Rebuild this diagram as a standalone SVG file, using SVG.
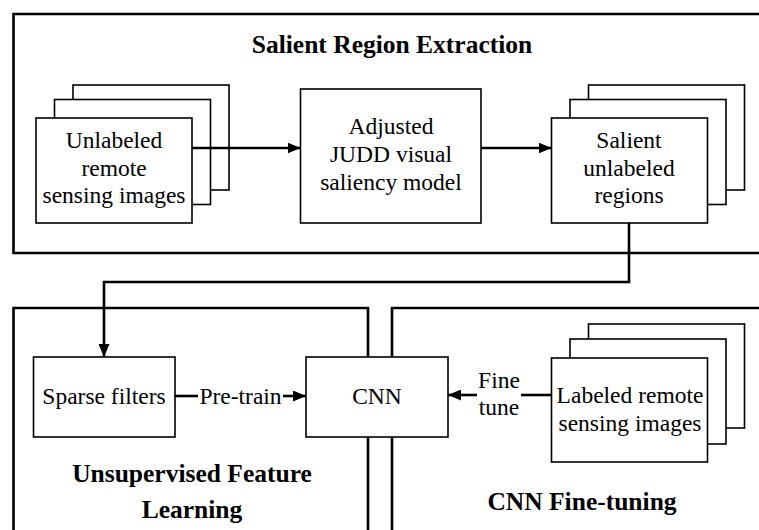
<svg xmlns="http://www.w3.org/2000/svg" width="759" height="530" viewBox="0 0 759 530">
<defs>
<style>
.cont{fill:none;stroke:#000;stroke-width:2.6}
.box{fill:#fff;stroke:#000;stroke-width:1.6}
.conn{fill:none;stroke:#000;stroke-width:2.6}
.t{font-family:'Liberation Serif','DejaVu Serif',serif;font-size:23.5px;fill:#000;text-anchor:middle}
.h{font-family:'Liberation Serif','DejaVu Serif',serif;font-size:25.5px;font-weight:bold;fill:#000;text-anchor:middle}
</style>
<marker id="ah" markerUnits="userSpaceOnUse" markerWidth="13" markerHeight="11" refX="13" refY="5.5" orient="auto">
<path d="M0,0 L13,5.5 L0,11 z" fill="#000"/>
</marker>
</defs>
<rect width="759" height="530" fill="#fff"/>
<g id="containers">
<g id="salient-region-extraction">
<path class="cont" d="M770,14 H13.5 V253 H770"/>
<text class="h" x="392" y="53">Salient Region Extraction</text>
</g>
<g id="unsupervised-feature-learning">
<path class="cont" d="M13.5,540 V308 H368 V540"/>
<text class="h" x="192" y="482">Unsupervised Feature</text>
<text class="h" x="192" y="518">Learning</text>
</g>
<g id="cnn-fine-tuning">
<path class="cont" d="M392,540 V308 H770"/>
<text class="h" x="582" y="510">CNN Fine-tuning</text>
</g>
</g>
<g id="unlabeled-images">
<rect class="box" x="73" y="85" width="156" height="105"/>
<rect class="box" x="54.5" y="99.5" width="156" height="105"/>
<rect class="box" x="36" y="118" width="156" height="105"/>
<text class="t" x="114" y="148">Unlabeled</text>
<text class="t" x="114" y="175.5">remote</text>
<text class="t" x="114" y="203">sensing images</text>
</g>
<g id="judd-model">
<rect class="box" x="300.5" y="89" width="180.5" height="134"/>
<text class="t" x="391" y="134">Adjusted</text>
<text class="t" x="391" y="162">JUDD visual</text>
<text class="t" x="391" y="190">saliency model</text>
</g>
<g id="salient-regions">
<rect class="box" x="588.5" y="85" width="156" height="105"/>
<rect class="box" x="570" y="99.5" width="156" height="105"/>
<rect class="box" x="551.5" y="118" width="156" height="105"/>
<text class="t" x="629" y="148">Salient</text>
<text class="t" x="629" y="176">unlabeled</text>
<text class="t" x="629" y="203">regions</text>
</g>
<g id="sparse-filters">
<rect class="box" x="33.5" y="357" width="141.5" height="80"/>
<text class="t" x="104" y="404">Sparse filters</text>
</g>
<g id="cnn">
<rect class="box" x="306" y="357" width="142" height="80"/>
<text class="t" x="377" y="404">CNN</text>
</g>
<g id="labeled-images">
<rect class="box" x="588.5" y="324" width="156" height="104"/>
<rect class="box" x="570" y="339" width="156" height="105"/>
<rect class="box" x="551.5" y="358" width="156" height="104"/>
<text class="t" x="630" y="403">Labeled remote</text>
<text class="t" x="630" y="431">sensing images</text>
</g>
<g id="connectors">
<line class="conn" x1="192" y1="148" x2="300.5" y2="148" marker-end="url(#ah)"/>
<line class="conn" x1="481" y1="148" x2="551.5" y2="148" marker-end="url(#ah)"/>
<polyline class="conn" points="629,223 629,282 104,282 104,357" marker-end="url(#ah)"/>
<line class="conn" x1="175" y1="396" x2="198" y2="396"/>
<line class="conn" x1="283" y1="396" x2="306" y2="396" marker-end="url(#ah)"/>
<text class="t" x="240.5" y="404">Pre-train</text>
<line class="conn" x1="551.5" y1="395" x2="521" y2="395"/>
<line class="conn" x1="477" y1="395" x2="448" y2="395" marker-end="url(#ah)"/>
<text class="t" x="499" y="388">Fine</text>
<text class="t" x="499" y="415">tune</text>
</g>
</svg>
